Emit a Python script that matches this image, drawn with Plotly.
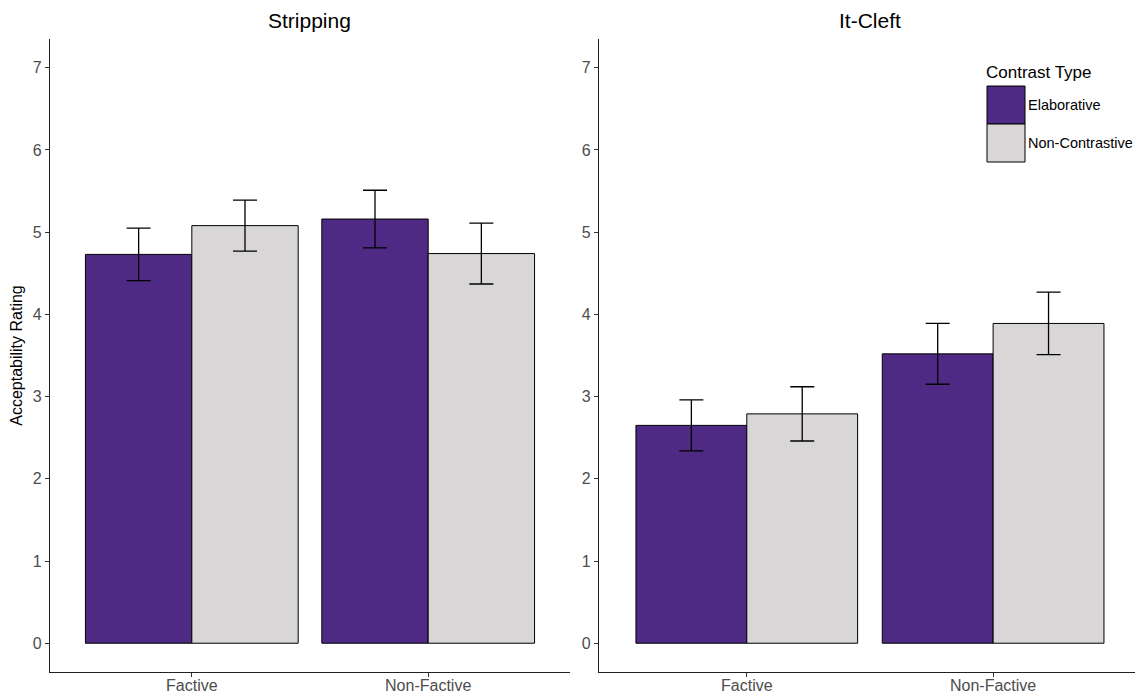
import plotly.graph_objects as go

# Data
conditions = ["Factive", "Non-Factive"]
contrast_types = ["Elaborative", "Non-Contrastive"]
panels = ["Stripping", "It-Cleft"]

stripping_means = {"Elaborative": [4.73, 5.16], "Non-Contrastive": [5.08, 4.74]}
stripping_se = {"Elaborative": [0.32, 0.35], "Non-Contrastive": [0.31, 0.37]}
itcleft_means = {"Elaborative": [2.65, 3.52], "Non-Contrastive": [2.79, 3.89]}
itcleft_se = {"Elaborative": [0.31, 0.37], "Non-Contrastive": [0.33, 0.38]}

y_ticks = [0, 1, 2, 3, 4, 5, 6, 7]

colors = {"Elaborative": "#4E2A84", "Non-Contrastive": "#D8D6D7"}

W, H = 1135, 694
FONT = "Liberation Sans, Arial, sans-serif"


def px_x(p):
    return p / W


def px_y(p):
    return 1 - p / H


fig = go.Figure()

panel_data = [(stripping_means, stripping_se, "x", "y"),
              (itcleft_means, itcleft_se, "x2", "y2")]

for means, ses, xa, ya in panel_data:
    for ct in contrast_types:
        fig.add_trace(go.Bar(
            x=conditions,
            y=means[ct],
            name=ct,
            xaxis=xa,
            yaxis=ya,
            marker=dict(color=colors[ct], line=dict(color="black", width=1)),
            error_y=dict(type="data", array=ses[ct], visible=True,
                         color="black", thickness=1.3, width=12),
            offsetgroup=ct,
            showlegend=False,
        ))

y_bottom = px_y(672)
y_top = px_y(39)

axis_common = dict(
    showline=True, linecolor="#222222", linewidth=1.2,
    ticks="outside", ticklen=4, tickcolor="#333333", tickwidth=1,
    showgrid=False, zeroline=False, automargin=False,
    tickfont=dict(family=FONT, size=16, color="#4D4D4D"),
)

fig.update_layout(
    width=W, height=H,
    margin=dict(l=0, r=0, t=0, b=0),
    paper_bgcolor="white", plot_bgcolor="white",
    barmode="group", bargap=0.1, bargroupgap=0,
    font=dict(family=FONT),
    xaxis=dict(domain=[px_x(50), px_x(570)], anchor="y", type="category",
               range=[-0.6, 1.6], ticklabelstandoff=-5, **axis_common),
    yaxis=dict(domain=[y_bottom, y_top], anchor="x", range=[-0.35, 7.35],
               tickvals=y_ticks, ticktext=[str(v) for v in y_ticks],
               title=dict(text="Acceptability Rating",
                          font=dict(family=FONT, size=16, color="black"),
                          standoff=6),
               **axis_common),
    xaxis2=dict(domain=[px_x(599), 1.0], anchor="y2", type="category",
                range=[-0.6, 1.576], ticklabelstandoff=-5, **axis_common),
    yaxis2=dict(domain=[y_bottom, y_top], anchor="x2", range=[-0.35, 7.35],
                tickvals=y_ticks, ticktext=[str(v) for v in y_ticks],
                **axis_common),
)

# Panel titles
for title, cx in zip(panels, [309.5, 869.5]):
    fig.add_annotation(x=px_x(cx), y=px_y(21), xref="paper", yref="paper",
                       text=title, showarrow=False, xanchor="center",
                       yanchor="middle",
                       font=dict(family=FONT, size=21, color="black"))

# Legend drawn with large square keys
fig.add_annotation(x=px_x(984), y=px_y(73), xref="paper", yref="paper",
                   text="Contrast Type", showarrow=False, xanchor="left",
                   yanchor="middle",
                   font=dict(family=FONT, size=17, color="black"))
key_tops = [86, 124]
for ct, top in zip(contrast_types, key_tops):
    fig.add_shape(type="rect", xref="paper", yref="paper",
                  x0=px_x(987), x1=px_x(1025), y0=px_y(top + 38), y1=px_y(top),
                  fillcolor=colors[ct], line=dict(color="black", width=1))
    fig.add_annotation(x=px_x(1026), y=px_y(top + 19), xref="paper",
                       yref="paper", text=ct, showarrow=False,
                       xanchor="left", yanchor="middle",
                       font=dict(family=FONT, size=14.5, color="black"))

fig.write_html("out.html")
